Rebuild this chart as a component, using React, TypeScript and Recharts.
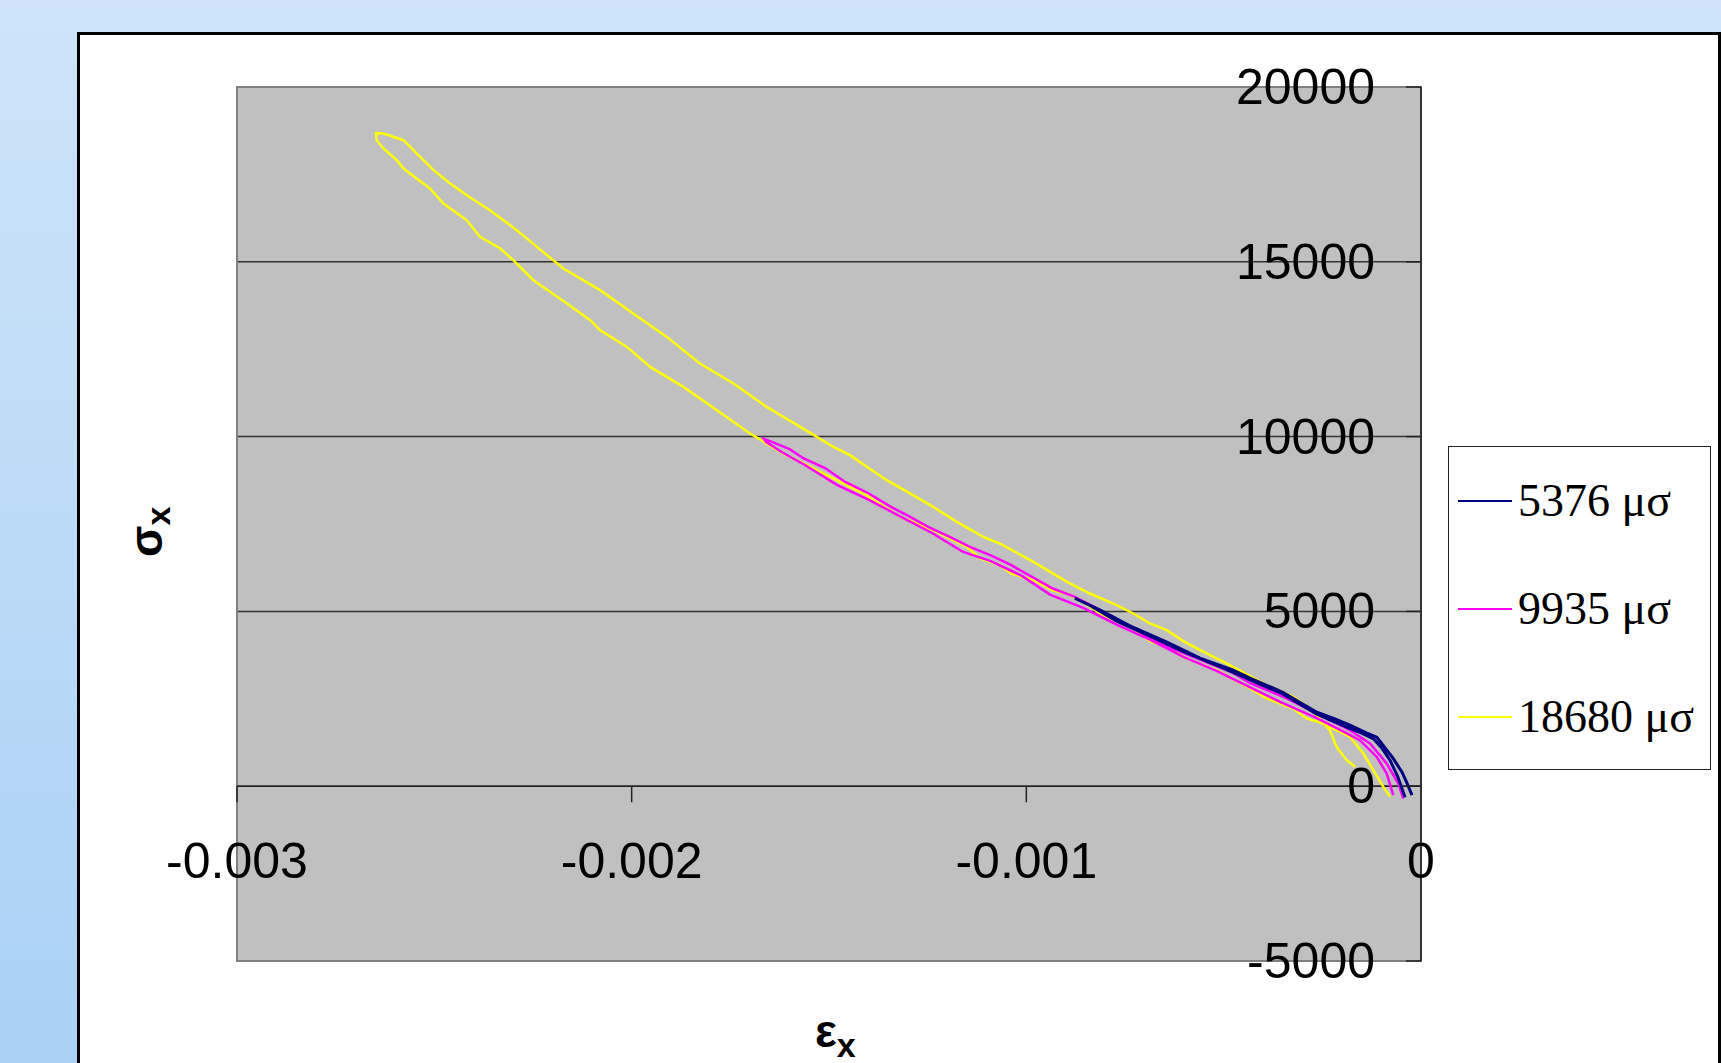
import React from "react";
import {
  LineChart,
  Line,
  XAxis,
  YAxis,
  CartesianGrid,
  ReferenceLine,
  ReferenceArea,
} from "recharts";

// strain ticks and stress ticks
const xTicks = [-0.003, -0.002, -0.001, 0];
const yTicks = [-5000, 0, 5000, 10000, 15000, 20000];

const seriesNames = ["5376 μσ", "9935 μσ", "18680 μσ"];

const loop5376: [number, number][] = [
  [-0.0000405, -315], [-0.0000583, 257], [-0.0000785, 744], [-0.0001, 1100],
  [-0.00012, 1350], [-0.00015, 1520], [-0.00019, 1700], [-0.000264, 2060],
  [-0.00035, 2640], [-0.000433, 3040], [-0.000518, 3460], [-0.000602, 3850],
  [-0.000687, 4290], [-0.000771, 4720], [-0.00084, 5180], [-0.000877, 5376],
  [-0.000813, 5034], [-0.00073, 4547], [-0.000644, 4118], [-0.00056, 3661],
  [-0.000476, 3318], [-0.000433, 3089], [-0.00035, 2688], [-0.000264, 2116],
  [-0.000223, 1945], [-0.00018, 1745], [-0.000137, 1516], [-0.000112, 1401],
  [-0.0000963, 1173], [-0.0000709, 801], [-0.0000481, 400], [-0.0000355, 86],
  [-0.0000228, -257],
];

const loop9935: [number, number][] = [
  [-0.0000702, -257], [-0.0000869, 363], [-0.000112, 838], [-0.000155, 1316],
  [-0.0002, 1580], [-0.000264, 1950], [-0.000357, 2411], [-0.000433, 2830],
  [-0.000518, 3300], [-0.000602, 3700], [-0.000687, 4190], [-0.000771, 4620],
  [-0.000856, 5100], [-0.00094, 5480], [-0.00101, 6010], [-0.00109, 6440],
  [-0.00116, 6700], [-0.00124, 7250], [-0.00132, 7720], [-0.0014, 8200],
  [-0.00148, 8620], [-0.00156, 9180], [-0.00162, 9560], [-0.00166, 9850],
  [-0.001665, 9935], [-0.00164, 9830], [-0.0016, 9640], [-0.001564, 9374],
  [-0.00151, 9100], [-0.001459, 8704], [-0.0014, 8380], [-0.001343, 7989],
  [-0.0013, 7740], [-0.001249, 7417], [-0.00119, 7110], [-0.001143, 6845],
  [-0.00109, 6600], [-0.001038, 6321], [-0.00098, 5950], [-0.000933, 5655],
  [-0.000877, 5415], [-0.000813, 5034], [-0.000729, 4511], [-0.000644, 4000],
  [-0.00056, 3620], [-0.000476, 3240], [-0.000433, 2950], [-0.00035, 2560],
  [-0.000264, 2080], [-0.000214, 1800], [-0.00018, 1600], [-0.000129, 1221],
  [-0.000087, 649], [-0.0000575, 77], [-0.0000448, -352],
];

const loop18680: [number, number][] = [
  [-0.0000785, -306], [-0.0000955, -20], [-0.000121, 458], [-0.000146, 935],
  [-0.00018, 1410], [-0.000248, 1793], [-0.00029, 1937], [-0.000324, 2223],
  [-0.000391, 2509], [-0.000433, 2795], [-0.000518, 3318], [-0.00056, 3500],
  [-0.000602, 3698], [-0.000644, 3990], [-0.000687, 4150], [-0.000729, 4511],
  [-0.000813, 4940], [-0.000856, 5272], [-0.000898, 5512], [-0.000933, 5600],
  [-0.000982, 5892], [-0.001038, 6084], [-0.001067, 6321], [-0.001117, 6513],
  [-0.001151, 6845], [-0.001236, 7323], [-0.00132, 7700], [-0.001406, 8324],
  [-0.001447, 8561], [-0.001531, 9039], [-0.001616, 9517], [-0.0017, 10089],
  [-0.001784, 10755], [-0.001869, 11422], [-0.001953, 11994], [-0.002012, 12566],
  [-0.00208, 13044], [-0.002105, 13330], [-0.002164, 13808], [-0.002249, 14474],
  [-0.0023, 15046], [-0.002333, 15381], [-0.002384, 15712], [-0.002418, 16190],
  [-0.002477, 16668], [-0.002511, 17097], [-0.002545, 17383], [-0.002578, 17669],
  [-0.002595, 17905], [-0.002629, 18241], [-0.002646, 18478], [-0.002648, 18680],
  [-0.002629, 18670], [-0.002578, 18478], [-0.002545, 18098], [-0.002502, 17621],
  [-0.00246, 17240], [-0.002418, 16905], [-0.002359, 16475], [-0.002291, 15903],
  [-0.00224, 15426], [-0.002173, 14808], [-0.00208, 14189], [-0.001996, 13521],
  [-0.001911, 12852], [-0.001827, 12091], [-0.001742, 11519], [-0.001658, 10849],
  [-0.001573, 10277], [-0.001489, 9705], [-0.001447, 9468], [-0.001354, 8753],
  [-0.00132, 8540], [-0.001236, 7989], [-0.001176, 7560], [-0.001109, 7131],
  [-0.001067, 6942], [-0.000982, 6416], [-0.000898, 5850], [-0.000839, 5512],
  [-0.000771, 5177], [-0.000729, 4940], [-0.000687, 4654], [-0.000644, 4462],
  [-0.000602, 4150], [-0.00056, 3890], [-0.000543, 3796], [-0.000476, 3412],
  [-0.000391, 2889], [-0.000324, 2554], [-0.000281, 2222], [-0.000273, 2126],
  [-0.000231, 1602], [-0.000214, 1124], [-0.000188, 744], [-0.000167, 552],
];

const toPoints = (loop: [number, number][]) => loop.map(([x, y]) => ({ x, y }));

// drawn back to front: yellow, magenta, navy
const series = [
  { name: seriesNames[2], data: toPoints(loop18680), color: "#ffff00", width: 2.5 },
  { name: seriesNames[1], data: toPoints(loop9935), color: "#ff00ff", width: 2.5 },
  { name: seriesNames[0], data: toPoints(loop5376), color: "#000080", width: 3 },
];
const legendOrder = [series[2], series[1], series[0]];

const SANS = "'Liberation Sans', Arial, sans-serif";
const SERIF = "'Liberation Serif', 'Times New Roman', serif";

// x labels sit well below the y=0 axis line, inside the plot
const XTick = (props: any) => {
  const { x, y, payload } = props;
  return (
    <text
      x={x}
      y={y - 100}
      textAnchor="middle"
      dominantBaseline="central"
      fontSize={50}
      fontFamily={SANS}
      fill="#000"
    >
      {String(payload.value)}
    </text>
  );
};

// y labels left of the right-hand axis, with inward tick marks
const YTick = (props: any) => {
  const { x, y, payload } = props;
  return (
    <g>
      <line x1={x - 15} x2={x} y1={y} y2={y} stroke="#222" strokeWidth={1.5} />
      <text
        x={x - 46}
        y={y}
        textAnchor="end"
        dominantBaseline="central"
        fontSize={50}
        fontFamily={SANS}
        fill="#000"
      >
        {String(payload.value)}
      </text>
    </g>
  );
};

export default function App() {
  return (
    <div
      style={{
        position: "absolute",
        left: 0,
        top: 0,
        width: 1721,
        height: 1063,
        overflow: "hidden",
        background: "linear-gradient(to bottom, #cfe4f8, #a9d1f6)",
      }}
    >
      <div
        style={{
          position: "absolute",
          left: 77,
          top: 32,
          width: 1644,
          height: 1100,
          boxSizing: "border-box",
          border: "3px solid #000",
          background: "#fff",
        }}
      />

      <div style={{ position: "absolute", left: 0, top: 0 }}>
        <LineChart
          width={1721}
          height={1063}
          margin={{ top: 87, left: 237, right: 299, bottom: 101 }}
        >
          <CartesianGrid vertical={false} stroke="#333" strokeWidth={1.5} fill="#c0c0c0" fillOpacity={1} />
          <XAxis
            type="number"
            dataKey="x"
            domain={[-0.003, 0]}
            ticks={xTicks}
            interval={0}
            allowDataOverflow
            height={1}
            tickSize={0}
            tickMargin={0}
            axisLine={false}
            tickLine={false}
            tick={<XTick />}
          />
          <YAxis
            type="number"
            dataKey="y"
            orientation="right"
            width={1}
            domain={[-5000, 20000]}
            ticks={yTicks}
            interval={0}
            allowDataOverflow
            tickSize={0}
            tickMargin={0}
            axisLine={false}
            tickLine={false}
            tick={<YTick />}
          />
          <ReferenceArea
            x1={-0.003}
            x2={0}
            y1={-5000}
            y2={20000}
            fill="none"
            stroke="#808080"
            strokeWidth={2}
          />
          <ReferenceLine x={0} stroke="#333" strokeWidth={2} />
          <ReferenceLine y={0} stroke="#222" strokeWidth={1.5} />
          {xTicks
            .filter((t) => t !== 0)
            .map((t) => (
              <ReferenceLine
                key={t}
                segment={[
                  { x: t, y: 0 },
                  { x: t, y: -460 },
                ]}
                stroke="#222"
                strokeWidth={1.5}
              />
            ))}
          {series.map((s) => (
            <Line
              key={s.name}
              data={s.data}
              dataKey="y"
              name={s.name}
              type="linear"
              stroke={s.color}
              strokeWidth={s.width}
              dot={false}
              activeDot={false}
              isAnimationActive={false}
            />
          ))}
        </LineChart>
      </div>

      <svg
        width={1721}
        height={1063}
        style={{ position: "absolute", left: 0, top: 0, pointerEvents: "none" }}
      >
        <text
          transform="translate(162,557) rotate(-90)"
          fontFamily={SANS}
          fontWeight="bold"
          fontSize={46}
          fill="#000"
        >
          σ
          <tspan dy={8} fontSize={34}>
            x
          </tspan>
        </text>
        <text x={815} y={1047} fontFamily={SANS} fontWeight="bold" fontSize={46} fill="#000">
          ε
          <tspan dy={10} fontSize={34}>
            x
          </tspan>
        </text>
      </svg>

      <div
        style={{
          position: "absolute",
          left: 1448,
          top: 446,
          width: 263,
          height: 324,
          boxSizing: "border-box",
          border: "1.5px solid #222",
          background: "#fff",
        }}
      >
        {legendOrder.map((s, i) => (
          <div
            key={s.name}
            style={{
              position: "absolute",
              left: 9,
              top: 54 + i * 108 - 28,
              height: 56,
              display: "flex",
              alignItems: "center",
              whiteSpace: "nowrap",
            }}
          >
            <div style={{ width: 54, height: 2, background: s.color, marginRight: 6 }} />
            <span style={{ fontFamily: SERIF, fontSize: 46, color: "#000", lineHeight: "56px" }}>
              {s.name}
            </span>
          </div>
        ))}
      </div>
    </div>
  );
}
